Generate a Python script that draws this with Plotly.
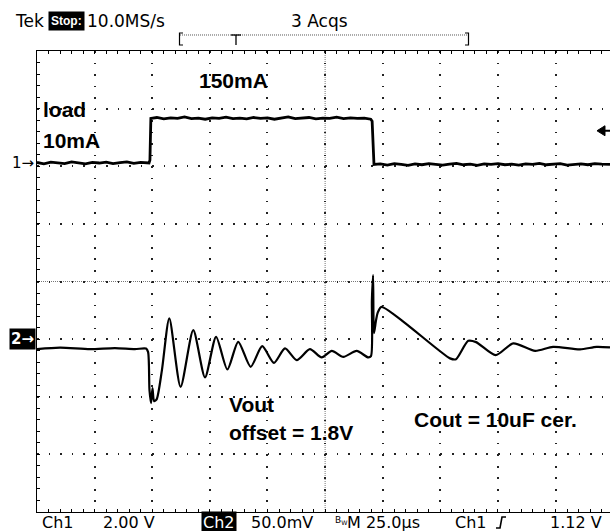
import plotly.graph_objects as go

# Ch1 : load step signal (volts, 2.00 V/div), time in µs from left edge of screen
ch1_t = [0, 3, 6, 9, 12, 15, 18, 21, 24, 27, 30, 33, 36, 39, 42, 45, 48.6,
         49.0, 49.4,
         52, 55, 58, 61, 64, 67, 70, 73, 76, 79, 82, 85, 88, 91, 94, 97, 100,
         103, 106, 109, 112, 115, 118, 121, 124, 127, 130, 133, 136, 139, 142,
         144.8, 145.4, 146.2,
         149, 152, 155, 158, 161, 164, 167, 170, 173, 176, 179, 182, 185, 188,
         191, 194, 197, 200, 203, 206, 209, 212, 215, 218, 221, 224, 227, 230,
         233, 236, 239, 242, 245, 248.6]
ch1_v = [0.02, -0.03, 0.03, 0.00, -0.02, 0.04, 0.01, -0.03, 0.02, 0.00, 0.03,
         -0.02, 0.01, 0.04, -0.01, 0.02, 0.00,
         0.10, 1.55,
         1.58, 1.53, 1.57, 1.55, 1.60, 1.54, 1.56, 1.52, 1.57, 1.55, 1.59, 1.54,
         1.56, 1.53, 1.58, 1.55, 1.57, 1.52, 1.56, 1.60, 1.54, 1.55, 1.58, 1.53,
         1.56, 1.55, 1.59, 1.54, 1.57, 1.55, 1.56,
         1.52, 1.45, -0.05,
         -0.03, -0.07, -0.02, -0.05, -0.08, -0.03, -0.06, -0.02, -0.05, -0.07,
         -0.04, -0.01, -0.06, -0.04, -0.08, -0.03, -0.05, -0.02, -0.06, -0.04,
         -0.07, -0.03, -0.05, -0.01, -0.06, -0.04, -0.02, -0.07, -0.05, -0.03,
         -0.06, -0.02, -0.04, -0.05]

# Ch2 : Vout deviation from the 1.8 V offset (mV, 50.0 mV/div)
ch2_t = [0, 10.0, 23.0, 33.8, 42.5, 47.3, 48.2, 48.8, 49.5, 50.1, 50.8, 51.9,
         54.2, 57.4, 62.3, 67.8, 72.9, 77.7, 82.6, 87.3, 92.7, 97.7, 102.8,
         107.6, 112.7, 118.4, 123.5, 127.9, 132.9, 138.7, 143.7, 144.9, 145.3,
         145.8, 146.2, 147.1, 147.9, 149.5, 179.2, 181.8, 187.1, 190.5, 199.0,
         206.6, 216.1, 223.9, 235.6, 242.8, 248.6]
ch2_mv = [-8.7, -7.4, -8.7, -7.8, -8.7, -8.2, -11.3, -44.3, -55.5, -42.5, -53.8,
          -52.3, -26.9, 18.0, -41.4, 7.8, -33.2, 2.0, -26.3, -2.3, -24.0, -6.1,
          -20.6, -8.1, -18.2, -8.7, -15.9, -10.2, -15.4, -10.2, -15.9, -14.8,
          33.8, 55.5, 5.2, 16.5, 23.4, 28.0, -16.7, -17.4, -1.5, -2.6, -13.9,
          -3.7, -10.2, -6.7, -8.9, -6.7, -7.2]

# scope settings
time_per_div = 25.0        # µs/div
ch1_volts_per_div = 2.0    # V/div
ch2_mv_per_div = 50.0      # mV/div
ch1_position = 2.056       # div
ch2_position = -1.0        # div
trigger_level = 1.12       # V (Ch1)

# ---------------- layout geometry ----------------
W, H = 610, 531
ML, MT, MB, MR = 37, 51, 19, 0
PW, PH = W - ML - MR, H - MT - MB
XMAX = 248.6                 # visible part of the 10-division screen
XCENTER = 5 * time_per_div
PX_PER_DIV = PH / 8.0

def pp(xp, yp):
    """pixel -> paper coordinates"""
    return (xp - ML) / PW, (MT + PH - yp) / PH

GRID = "#222222"
TEK = "DejaVu Sans"
BOLD = "Liberation Sans"

fig = go.Figure()
fig.add_trace(go.Scatter(x=[], y=[], xaxis="x", yaxis="y", showlegend=False))
fig.add_trace(go.Scatter(x=ch1_t, y=ch1_v, mode="lines", xaxis="x", yaxis="y2",
                         line=dict(color="black", width=2.8), showlegend=False,
                         name="Ch1"))
fig.add_trace(go.Scatter(x=ch2_t, y=ch2_mv, mode="lines", xaxis="x", yaxis="y3",
                         line=dict(color="black", width=2.2, shape="spline",
                                   smoothing=0.7),
                         showlegend=False, name="Ch2"))

minor_px = PX_PER_DIV / 5
dots = f"1.6px,{minor_px - 1.6:.3f}px"
common_hidden = dict(showgrid=False, zeroline=False, showticklabels=False)

fig.update_layout(
    width=W, height=H,
    margin=dict(l=ML, r=MR, t=MT, b=MB, autoexpand=False),
    paper_bgcolor="white", plot_bgcolor="white",
    showlegend=False,
    xaxis=dict(range=[0, XMAX], tick0=0, dtick=time_per_div,
               showgrid=True, gridcolor=GRID, gridwidth=1.6, griddash=dots,
               zeroline=False, showticklabels=False,
               showline=True, linecolor="black", linewidth=1.2, mirror="ticks",
               ticks="inside", ticklen=3, tickcolor="black", tickwidth=1.2,
               minor=dict(dtick=time_per_div / 5, tick0=0, ticks="inside",
                          ticklen=3, tickcolor="black", tickwidth=1.2)),
    yaxis=dict(range=[-4, 4], tick0=0, dtick=1,
               showgrid=True, gridcolor=GRID, gridwidth=1.6, griddash=dots,
               zeroline=False, showticklabels=False,
               showline=True, linecolor="black", linewidth=1.2, mirror=False,
               ticks="inside", ticklen=3, tickcolor="black", tickwidth=1.2,
               minor=dict(dtick=0.2, tick0=0, ticks="inside", ticklen=3,
                          tickcolor="black", tickwidth=1.2)),
    yaxis2=dict(overlaying="y", visible=False,
                range=[(-4 - ch1_position) * ch1_volts_per_div,
                       (4 - ch1_position) * ch1_volts_per_div]),
    yaxis3=dict(overlaying="y", visible=False,
                range=[(-4 - ch2_position) * ch2_mv_per_div,
                       (4 - ch2_position) * ch2_mv_per_div]),
    # centre-cross tick marks
    xaxis3=dict(overlaying="x", anchor="free", position=0.5, range=[0, XMAX],
                tick0=0, dtick=time_per_div / 5, ticks="inside", ticklen=3,
                tickcolor=GRID, showline=False, **common_hidden),
    xaxis4=dict(overlaying="x", anchor="free", position=0.5, range=[0, XMAX],
                tick0=0, dtick=time_per_div / 5, ticks="outside", ticklen=3,
                tickcolor=GRID, showline=False, **common_hidden),
    yaxis4=dict(overlaying="y", anchor="free", position=XCENTER / XMAX,
                range=[-4, 4], tick0=0, dtick=0.2, ticks="inside", ticklen=3,
                tickcolor=GRID, showline=False, **common_hidden),
    yaxis5=dict(overlaying="y", anchor="free", position=XCENTER / XMAX,
                range=[-4, 4], tick0=0, dtick=0.2, ticks="outside", ticklen=3,
                tickcolor=GRID, showline=False, **common_hidden),
)

# centre cross lines
fig.add_shape(type="line", xref="x", yref="y", x0=XCENTER, x1=XCENTER, y0=-4, y1=4,
              line=dict(color="#777", width=1, dash="1px,1px"), layer="below")
fig.add_shape(type="line", xref="x", yref="y", x0=0, x1=XMAX, y0=0, y1=0,
              line=dict(color="#777", width=1, dash="1px,1px"), layer="below")

# record-length bar  [----T-------]
def pshape(path_pts, dash=None, width=1.2, color="black"):
    pts = [pp(x, y) for x, y in path_pts]
    d = "M" + " L".join(f"{x:.5f},{y:.5f}" for x, y in pts)
    fig.add_shape(type="path", xref="paper", yref="paper", path=d,
                  line=dict(color=color, width=width, dash=dash))

pshape([(183, 33), (179.5, 33), (179.5, 45), (183, 45)])
pshape([(465, 33), (468.5, 33), (468.5, 45), (465, 45)])
pshape([(180, 35), (468, 35)], dash="1px,1px", color="#555", width=1)
pshape([(231, 35), (241, 35)], width=1.3)
pshape([(236, 35), (236, 45)], width=1.3)
# trigger-slope glyph in footer
pshape([(496, 528), (500, 528), (502, 517), (506, 517)], width=1.6)

# trigger level arrow at right edge (on Ch1 scale)
dv = 5 / PX_PER_DIV * ch1_volts_per_div
xa, _ = pp(597, 0)
xb, _ = pp(605, 0)
fig.add_shape(type="path", xref="paper", yref="y2",
              path=(f"M{xa:.5f},{trigger_level} L{xb:.5f},{trigger_level + dv:.4f} "
                    f"L{xb:.5f},{trigger_level - dv:.4f} Z"),
              fillcolor="black", line=dict(color="black", width=1))
fig.add_shape(type="line", xref="paper", yref="y2", x0=xb, x1=1.0,
              y0=trigger_level, y1=trigger_level, line=dict(color="black", width=2))


def text(s, xp, yp, size=17, family=TEK, color="black", bg=None, bold=False,
         xanchor="left", pad=0):
    x, y = pp(xp, yp)
    fig.add_annotation(
        x=x, y=y, xref="paper", yref="paper", text=(f"<b>{s}</b>" if bold else s),
        showarrow=False, xanchor=xanchor, yanchor="middle",
        font=dict(family=family, size=size, color=color),
        bgcolor=bg, borderpad=pad)

# header
text("Tek", 14, 21, size=17)
text("Stop:", 48, 21, size=12, family=BOLD, color="white", bg="black", pad=2,
     bold=True)
text("10.0MS/s", 86, 21, size=17)
text("3 Acqs", 290, 21, size=17)

# footer
FY = 522
text("Ch1", 41, FY, size=16)
text("2.00 V", 102, FY, size=16)
text("Ch2", 201, FY, size=16, color="white", bg="black", pad=1)
text("50.0mV", 250, FY, size=16)
text("B<sub>W</sub>", 334, FY - 2, size=9)
text("M 25.0µs", 346, FY, size=16)
text("Ch1", 454, FY, size=16)
text("1.12 V", 549, FY, size=16)

# labels in the graticule
text("150mA", 198, 80, size=21, family=BOLD, bold=True)
text("load", 42, 110, size=21, family=BOLD, bold=True)
text("10mA", 42, 140, size=21, family=BOLD, bold=True)
text("Vout", 228, 404, size=21, family=BOLD, bold=True)
text("offset = 1.8V", 228, 433, size=21, family=BOLD, bold=True)
text("Cout = 10uF cer.", 413, 419, size=21, family=BOLD, bold=True)

# channel ground markers
fig.add_annotation(x=0, y=0, xref="paper", yref="y2", text="1→", showarrow=False,
                   xanchor="right", yanchor="middle", xshift=-1,
                   font=dict(family=TEK, size=15, color="black"))
fig.add_annotation(x=0, y=0, xref="paper", yref="y3", text="<b>2→</b>",
                   showarrow=False, xanchor="right", yanchor="middle", xshift=-1,
                   font=dict(family=TEK, size=15, color="white"), bgcolor="black",
                   borderpad=1)

fig.write_html("out.html", config={"displayModeBar": False},
               post_script="document.body.style.margin='0';")
